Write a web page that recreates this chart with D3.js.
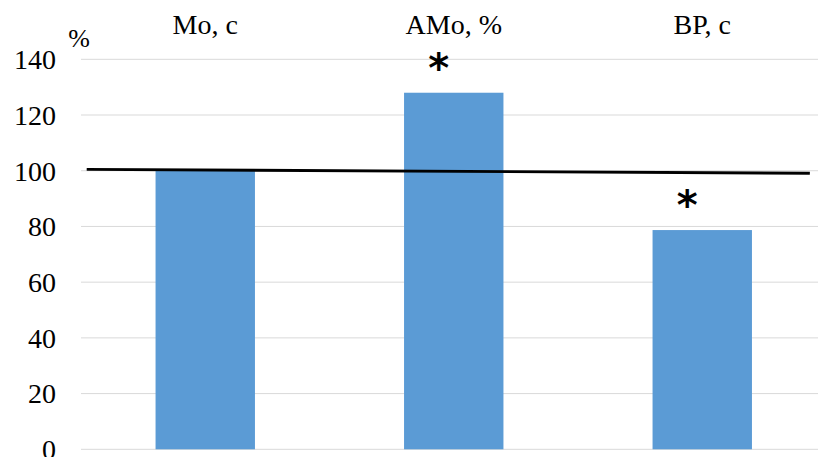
<!DOCTYPE html>
<html><head><meta charset="utf-8">
<script src="https://cdn.jsdelivr.net/npm/d3@7"></script>
<style>body{margin:0;background:#fff}svg{display:block}</style>
</head><body><svg id="c" width="818" height="457"></svg>
<script>
const categories = ["Mo, c", "AMo, %", "BP, c"];
const values = [100, 128, 78.7];
const significant = [false, true, true];
const yTicks = [0, 20, 40, 60, 80, 100, 120, 140];
const refLineIdx = [-0.477, 2.433];
const refLineVal = [100.5, 99.1];
const unitLabel = "%";

(function () {
const SERIF = "Times New Roman, Times, Liberation Serif, DejaVu Serif, Noto Serif, serif";
const svg = d3.select("#c").style("font-family", SERIF);
const mLeft = 81, mRight = 826.5, mTop = 59.3, mBottom = 449.3;
const x = d3.scaleBand().domain(d3.range(categories.length)).range([mLeft, mRight]).paddingInner(0.6).paddingOuter(0.3);
const xi = d3.scaleLinear().domain([0, categories.length - 1]).range([x(0) + x.bandwidth()/2, x(categories.length-1) + x.bandwidth()/2]);
const y = d3.scaleLinear().domain([0, 140]).range([mBottom, mTop]);

svg.append("g").selectAll("line").data(yTicks).join("line")
  .attr("x1", mLeft).attr("x2", 818).attr("y1", d => y(d)).attr("y2", d => y(d))
  .attr("stroke", "#d9d9d9").attr("stroke-width", 1);

svg.append("g").selectAll("text").data(yTicks).join("text")
  .attr("x", 56).attr("y", d => y(d)).attr("dy", "0.35em")
  .style("font-family", SERIF)
  .attr("text-anchor", "end").attr("font-size", 28).attr("fill", "#000").text(d => d);

svg.append("g").selectAll("rect").data(values).join("rect")
  .attr("x", (d, i) => x(i)).attr("width", x.bandwidth())
  .attr("y", d => y(d)).attr("height", d => y(0) - y(d))
  .attr("fill", "#5b9bd5");

svg.append("line")
  .attr("x1", xi(refLineIdx[0])).attr("x2", xi(refLineIdx[1]))
  .attr("y1", y(refLineVal[0])).attr("y2", y(refLineVal[1]))
  .attr("stroke", "#000").attr("stroke-width", 2.8);

svg.append("g").selectAll("text").data(categories).join("text")
  .attr("x", (d, i) => x(i) + x.bandwidth()/2).attr("y", 34)
  .style("font-family", SERIF)
  .attr("text-anchor", "middle").attr("font-size", 28).attr("fill", "#000").text(d => d);

svg.append("g").selectAll("text").data(values.map((v, i) => ({v, i})).filter(d => significant[d.i])).join("text")
  .attr("x", d => x(d.i) + x.bandwidth()/2 - 15).attr("y", d => y(d.v) - 11)
  .attr("text-anchor", "middle").style("font-family", "DejaVu Sans, sans-serif").attr("font-weight", "bold")
  .attr("font-size", 40).attr("fill", "#000").text("*");

svg.append("text").attr("x", 79).attr("y", 47).attr("text-anchor", "middle")
  .style("font-family", SERIF)
  .attr("font-size", 26).attr("fill", "#000").text(unitLabel);
})();
</script></body></html>
